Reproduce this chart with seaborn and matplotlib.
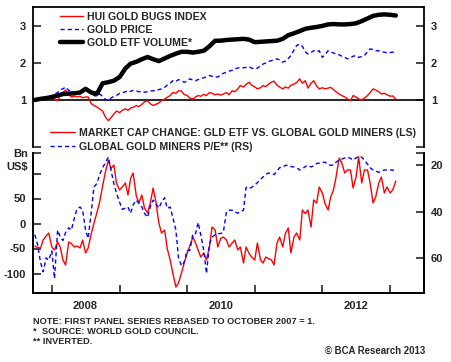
import numpy as np
import pandas as pd
import matplotlib
matplotlib.use("Agg")
import matplotlib.pyplot as plt
import matplotlib.dates as mdates
import seaborn as sns

# ---------------- data ----------------
semi_dates = pd.date_range("2007-10-01", periods=129, freq="SMS")
month_dates = pd.date_range("2007-10-01", periods=65, freq="MS")

hui_gold_bugs = [
    1.00, 1.02, 1.04, 1.03, 1.06, 1.02, 1.05, 1.03, 0.98, 1.12, 1.20, 1.27, 1.15, 1.08, 1.10, 1.08,
    1.10, 1.06, 1.08, 1.08, 0.90, 0.85, 0.81, 0.76, 0.70, 0.55, 0.44, 0.52, 0.62, 0.70, 0.66, 0.72,
    0.76, 0.72, 0.78, 0.80, 0.85, 0.82, 0.88, 0.95, 0.98, 0.90, 0.85, 0.88, 0.92, 0.98, 1.02, 1.07,
    1.12, 1.20, 1.18, 1.25, 1.24, 1.15, 1.12, 1.05, 1.03, 1.08, 1.12, 1.10, 1.15, 1.12, 1.20, 1.18,
    1.14, 1.16, 1.13, 1.16, 1.20, 1.14, 1.25, 1.22, 1.30, 1.39, 1.35, 1.42, 1.48, 1.40, 1.35, 1.30,
    1.33, 1.39, 1.36, 1.42, 1.48, 1.51, 1.40, 1.35, 1.30, 1.35, 1.32, 1.40, 1.43, 1.47, 1.57, 1.45,
    1.52, 1.32, 1.45, 1.52, 1.38, 1.30, 1.33, 1.30, 1.32, 1.34, 1.28, 1.22, 1.16, 1.12, 1.08, 1.03,
    0.98, 1.12, 1.08, 1.03, 1.00, 1.05, 1.12, 1.20, 1.30, 1.27, 1.22, 1.16, 1.18, 1.14, 1.10, 1.11,
    1.02,
]
gold_price = [
    1.00, 1.02, 1.04, 1.05, 1.06, 1.08, 1.12, 1.16, 1.20, 1.28, 1.30, 1.35, 1.26, 1.24, 1.22, 1.20,
    1.22, 1.24, 1.26, 1.25, 1.20, 1.12, 1.10, 1.16, 1.10, 1.02, 0.98, 1.05, 1.10, 1.12, 1.18, 1.20,
    1.22, 1.25, 1.23, 1.26, 1.25, 1.22, 1.23, 1.21, 1.22, 1.24, 1.25, 1.25, 1.28, 1.30, 1.34, 1.40,
    1.45, 1.52, 1.50, 1.55, 1.52, 1.48, 1.50, 1.57, 1.54, 1.52, 1.55, 1.57, 1.60, 1.63, 1.66, 1.64,
    1.62, 1.62, 1.68, 1.72, 1.75, 1.78, 1.80, 1.84, 1.86, 1.88, 1.87, 1.88, 1.90, 1.86, 1.84, 1.86,
    1.92, 1.97, 2.00, 2.04, 2.06, 2.08, 2.11, 2.08, 2.02, 2.05, 2.12, 2.20, 2.35, 2.47, 2.51, 2.45,
    2.30, 2.24, 2.28, 2.33, 2.30, 2.33, 2.15, 2.22, 2.33, 2.30, 2.27, 2.24, 2.22, 2.18, 2.15, 2.11,
    2.14, 2.18, 2.20, 2.15, 2.17, 2.20, 2.30, 2.38, 2.36, 2.33, 2.33, 2.30, 2.29, 2.27, 2.28, 2.29,
    2.27,
]
gold_etf_volume = [
    1.00, 1.03, 1.05,
    1.08, 1.12, 1.16, 1.17, 1.18, 1.20, 1.30, 1.20, 1.17, 1.45, 1.48, 1.52,
    1.62, 1.85, 1.98, 2.03, 2.10, 2.16, 2.10, 2.05, 2.12, 2.19, 2.25, 2.30,
    2.30, 2.28, 2.30, 2.33, 2.45, 2.60, 2.60, 2.62, 2.63, 2.64, 2.65, 2.63,
    2.56, 2.57, 2.58, 2.59, 2.60, 2.65, 2.75, 2.80, 2.86, 2.92, 2.95, 2.97,
    3.00, 3.04, 3.05, 3.04, 3.04, 3.05, 3.07, 3.13, 3.20, 3.27, 3.30, 3.31,
    3.30, 3.28,
]
market_cap_change = [
    -45, -48, -49, -33, -25, -19, -47, -53, -37, -47, -73, -83, -37, -40, -47, -45,
    -49, -33, -59, -49, -20, 0, 23, 43, 75, 101, 127, 110, 117, 80, 67, 73,
    81, 57, 90, 101, 55, 41, 57, 31, 21, 40, 71, 45, 1, -19, -13, -50,
    -73, -99, -127, -119, -99, -80, -59, -45, -27, -39, -53, -67, -59, -73, -47, -7,
    -13, -47, -30, -27, -33, -47, -39, -33, -53, -47, -79, -47, -60, -67, -73, -39,
    -73, -79, -67, -70, -73, -83, -39, -27, -47, -20, -9, -59, -27, -19, -33, 27,
    20, 27, -7, 47, 41, 73, 61, 40, 27, 53, 67, 93, 131, 121, 101, 107,
    107, 71, 93, 133, 81, 107, 107, 81, 41, 53, 81, 93, 61, 73, 61, 67,
    85,
]
miners_pe = [
    50, 54, 62, 66, 60, 61, 57, 69, 48, 51, 52.5, 49, 47, 48, 43, 39,
    38, 39.4, 48, 51.6, 40, 29.4, 27.7, 24, 21, 19, 16.4, 22, 28, 32, 36, 39,
    38.5, 38, 40.7, 37, 35, 36.4, 38, 40.7, 42.5, 38, 35, 36.4, 38.5, 36, 34, 38.6,
    38, 42.5, 48, 60, 63.5, 62, 56.8, 56.8, 49.5, 49.5, 44.7, 50, 57, 66.8, 54, 51,
    50, 49.5, 49.5, 49, 40, 39.4, 39.4, 40, 40.7, 40, 39.4, 29.5, 30, 29.5, 28.5, 27.5,
    26, 25, 24, 23.3, 23.5, 24, 22.5, 21, 20.7, 20, 20, 20.5, 20.7, 21, 22, 21.5,
    20.5, 20, 20.7, 20.2, 19.2, 19, 18.8, 18.6, 19.5, 20, 19.8, 18.6, 17.7, 17.3, 16.8, 16.4,
    17, 17.7, 16.8, 16, 16.5, 17.7, 19.5, 21, 22, 22.5, 23, 22.5, 22, 22, 22, 22,
    23,
]

top_labels = ["HUI GOLD BUGS INDEX", "GOLD PRICE", "GOLD ETF VOLUME*"]
bottom_labels = ["MARKET CAP CHANGE: GLD ETF VS. GLOBAL GOLD MINERS (LS)",
                 "GLOBAL GOLD MINERS P/E** (RS)"]
year_labels = ["2008", "2010", "2012"]
notes = ["NOTE: FIRST PANEL SERIES REBASED TO OCTOBER 2007 = 1.",
         "*  SOURCE: WORLD GOLD COUNCIL.",
         "** INVERTED."]
credit = "\u00a9 BCA Research 2013"

top_df = pd.DataFrame({"date": semi_dates, "hui": hui_gold_bugs, "gold": gold_price})
etf_df = pd.DataFrame({"date": month_dates, "etf": gold_etf_volume})
bot_df = pd.DataFrame({"date": semi_dates, "cap": market_cap_change, "pe": miners_pe})

# ---------------- style ----------------
sns.set_theme(style="white")
plt.rcParams["font.family"] = ["Liberation Sans", "DejaVu Sans"]
plt.rcParams["font.weight"] = "bold"
plt.rcParams["axes.unicode_minus"] = False

W, H = 451, 362
fig = plt.figure(figsize=(W / 100, H / 100), dpi=100)
L, R = 33, 424
ax1 = fig.add_axes([L / W, 1 - 147 / H, (R - L) / W, 140 / H])
ax2 = fig.add_axes([L / W, 1 - 293 / H, (R - L) / W, 140 / H])

xlim = (pd.Timestamp("2007-09-21"), pd.Timestamp("2013-07-03"))
FS = 7.6

# ---------------- top panel ----------------
ax1.axhline(1, color="black", lw=1.2, zorder=1)
sns.lineplot(data=top_df, x="date", y="hui", ax=ax1, color="#ff0000", lw=1.0,
             label=top_labels[0], zorder=3)
sns.lineplot(data=top_df, x="date", y="gold", ax=ax1, color="#0000ff", lw=1.0,
             linestyle=(0, (3, 2.2)), label=top_labels[1], zorder=2)
sns.lineplot(data=etf_df, x="date", y="etf", ax=ax1, color="black", lw=3.2,
             label=top_labels[2], zorder=4)
top_ylim = (-0.27, 3.51)
ax1.set_ylim(*top_ylim)
ax1.set_xlim(*xlim)
ax1.set_yticks([top_ylim[0], 1, 2, 3])
ax1.set_yticklabels(["", "1", "2", "3"])
ax1.set_xticks([])
ax1.set_xlabel("")
ax1.set_ylabel("")
ax1.tick_params(axis="y", direction="in", length=6, width=1.2, left=True, right=True,
                labelleft=True, labelright=True, labelsize=8, pad=5)
for s in ["left", "right", "top"]:
    ax1.spines[s].set_linewidth(1.3)
    ax1.spines[s].set_color("black")
ax1.spines["bottom"].set_visible(False)
h1, l1 = ax1.get_legend_handles_labels()
ax1.legend(h1, l1, loc="upper left", bbox_to_anchor=(60 / W, 1 - 12 / H),
           bbox_transform=fig.transFigure, frameon=False, fontsize=FS,
           handlelength=2.2, handletextpad=0.35, labelspacing=0.28,
           borderpad=0, borderaxespad=0)

# ---------------- bottom panel ----------------
sns.lineplot(data=bot_df, x="date", y="cap", ax=ax2, color="#ff0000", lw=1.0,
             label=bottom_labels[0], zorder=3, legend=False)
ax3 = ax2.twinx()
sns.lineplot(data=bot_df, x="date", y="pe", ax=ax3, color="#0000ff", lw=1.0,
             linestyle=(0, (3, 2.2)), label=bottom_labels[1], zorder=2, legend=False)
bl_ylim = (-139, 141)
ax2.set_ylim(*bl_ylim)
ax3.set_ylim(75.2, 14.65)
ax2.set_xlim(*xlim)
ax2.set_yticks([-100, -50, 0, 50, 100, bl_ylim[1]])
ax2.set_yticklabels(["-100", "-50", "0", "50", "", ""])
ax3.set_yticks([20, 40, 60, 14.65])
ax3.set_yticklabels(["20", "40", "60", ""])
for a in (ax2, ax3):
    a.set_xlabel("")
    a.set_ylabel("")
ax2.tick_params(axis="y", direction="in", length=6, width=1.2, left=True, labelsize=8, pad=5)
ax3.tick_params(axis="y", direction="in", length=6, width=1.2, right=True, labelsize=8, pad=5)

ax2.xaxis.set_major_locator(mdates.YearLocator(1))
ax2.xaxis.set_major_formatter(matplotlib.ticker.NullFormatter())
ax2.xaxis.set_minor_locator(mdates.YearLocator(2, month=7, day=1))
ax2.xaxis.set_minor_formatter(mdates.DateFormatter("%Y"))
ax2.tick_params(axis="x", which="major", direction="in", length=6, width=1.2, bottom=True)
ax2.tick_params(axis="x", which="minor", length=0, labelsize=8, pad=6)
ax3.tick_params(axis="x", which="both", bottom=False, labelbottom=False)

for a in (ax2, ax3):
    for s in ["left", "right", "bottom"]:
        a.spines[s].set_linewidth(1.3)
        a.spines[s].set_color("black")
    a.spines["top"].set_visible(False)

hb = ax2.get_lines()[:1] + ax3.get_lines()[:1]
fig.legend(hb, bottom_labels, loc="upper left", bbox_to_anchor=(50 / W, 1 - 128 / H),
           frameon=False, fontsize=FS, handlelength=2.4, handletextpad=0.35,
           labelspacing=0.35, borderpad=0, borderaxespad=0)

fig.text(28 / W, 1 - 154 / H, "Bn", ha="right", va="center", fontsize=8)
fig.text(28 / W, 1 - 167 / H, "US$", ha="right", va="center", fontsize=8)

for k, t in enumerate(notes):
    fig.text(33 / W, 1 - (321 + 10.5 * k) / H, t, ha="left", va="center", fontsize=6.7)
fig.text(425 / W, 1 - 351 / H, credit, ha="right", va="center", fontsize=6.9)

fig.savefig("out.png", dpi=100)
